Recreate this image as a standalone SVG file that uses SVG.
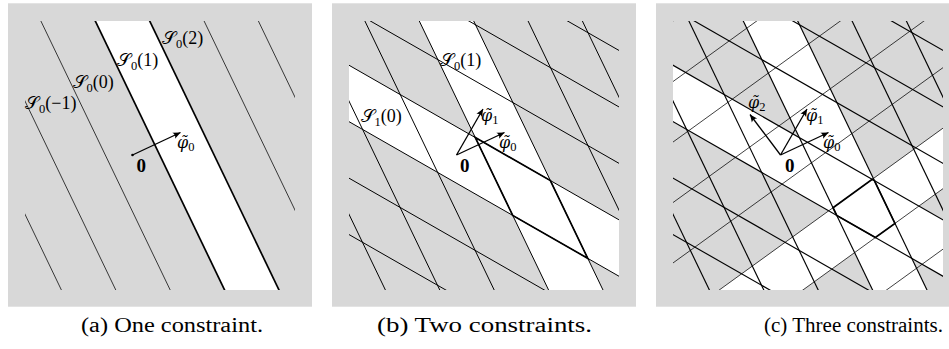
<svg xmlns="http://www.w3.org/2000/svg" xmlns:xlink="http://www.w3.org/1999/xlink" width="949" height="349" viewBox="0 0 949 349">
<style>
.bg{fill:#d8d8d8}
.white{fill:#ffffff}
.ln line{stroke:#000;fill:none}
.thick{stroke:#000;stroke-width:1.7;fill:none;stroke-linejoin:miter}
.arr{stroke:#000;stroke-width:1.3;fill:none;marker-end:url(#ah)}
.lab{font-family:"Liberation Serif","DejaVu Serif",serif;font-size:18px;fill:#000}
.sub{font-size:12.5px;font-style:normal;font-family:"Liberation Serif","DejaVu Serif",serif}
.phi{font-family:"DejaVu Serif","Liberation Serif",serif;font-style:italic;font-size:16px;fill:#000}
.zero{font-family:"Liberation Serif","DejaVu Serif",serif;font-weight:bold;font-size:19px;fill:#000}
.cap{font-family:"Liberation Serif","DejaVu Serif",serif;font-size:20px;fill:#000}
</style>
<defs>
<clipPath id="clip" clipPathUnits="userSpaceOnUse"><rect x="-107.5" y="-134" width="270" height="269"/></clipPath>
<marker id="ah" viewBox="-8 -4 9 8" refX="0" refY="0" markerWidth="9" markerHeight="8" markerUnits="userSpaceOnUse" orient="auto"><path d="M0,0 L-7.5,-3.3 Q-5,0 -7.5,3.3 Z" fill="#000"/></marker>
<g id="f0" class="ln">
<line x1="-203.3" y1="-140" x2="-68.7" y2="140"/>
<line x1="-148.9" y1="-140" x2="-14.3" y2="140"/>
<line x1="-94.5" y1="-140" x2="40.1" y2="140"/>
<line x1="-40.1" y1="-140" x2="94.5" y2="140"/>
<line x1="14.3" y1="-140" x2="148.9" y2="140"/>
<line x1="68.7" y1="-140" x2="203.3" y2="140"/>
<line x1="123.0" y1="-140" x2="257.6" y2="140"/>
</g>
<g id="f0thin" class="ln">
<line x1="-203.3" y1="-140" x2="-68.7" y2="140"/>
<line x1="-148.9" y1="-140" x2="-14.3" y2="140"/>
<line x1="-94.5" y1="-140" x2="40.1" y2="140"/>
<line x1="68.7" y1="-140" x2="203.3" y2="140"/>
<line x1="123.0" y1="-140" x2="257.6" y2="140"/>
</g>
<g id="f1" class="ln">
<line x1="-120" y1="72.4" x2="175" y2="241.3"/>
<line x1="-120" y1="16.0" x2="175" y2="184.9"/>
<line x1="-120" y1="-40.5" x2="175" y2="128.4"/>
<line x1="-120" y1="-96.9" x2="175" y2="72.0"/>
<line x1="-120" y1="-153.4" x2="175" y2="15.5"/>
<line x1="-120" y1="-209.8" x2="175" y2="-40.9"/>
<line x1="-120" y1="-266.3" x2="175" y2="-97.4"/>
</g>
<g id="f2" class="ln">
<line x1="-120" y1="298.5" x2="175" y2="85.1"/>
<line x1="-120" y1="238" x2="175" y2="24.6"/>
<line x1="-120" y1="177.5" x2="175" y2="-35.9"/>
<line x1="-120" y1="117" x2="175" y2="-96.4"/>
<line x1="-120" y1="56.6" x2="175" y2="-156.8"/>
<line x1="-120" y1="-3.9" x2="175" y2="-217.3"/>
<line x1="-120" y1="-64.4" x2="175" y2="-277.8"/>
<line x1="-120" y1="-124.9" x2="175" y2="-338.3"/>
</g>
<polygon id="s0" points="-40.1,-140 14.3,-140 148.9,140 94.5,140"/>
<polygon id="s1" points="-120,-96.9 175,72.0 175,128.4 -120,-40.5"/>
<polygon id="s2" points="-120,177.5 175,-35.9 175,24.6 -120,238"/>
</defs>

<g id="panel-a">
<rect class="bg" x="8" y="3.3" width="304" height="303.4"/>
<g transform="translate(132.5,155)">
<g clip-path="url(#clip)">
<use xlink:href="#s0" class="white"/>
<use xlink:href="#f0thin" stroke-width="0.75"/>
<line x1="-40.1" y1="-140" x2="94.5" y2="140" class="thick"/>
<line x1="14.3" y1="-140" x2="148.9" y2="140" class="thick"/>
</g>
<g id="arrows-a">
<circle cx="0" cy="0" r="1.3" fill="#000"/>
<line class="arr" x1="0" y1="0" x2="48" y2="-22.5"/>
</g>
</g>
<g id="labels-a">
<text class="lab" x="162" y="44">𝒮<tspan class="sub" dy="4">0</tspan><tspan dy="-4">(2)</tspan></text>
<text class="lab" x="117" y="66">𝒮<tspan class="sub" dy="4">0</tspan><tspan dy="-4">(1)</tspan></text>
<text class="lab" x="72.5" y="88">𝒮<tspan class="sub" dy="4">0</tspan><tspan dy="-4">(0)</tspan></text>
<text class="lab" x="25" y="109">𝒮<tspan class="sub" dy="4">0</tspan><tspan dy="-4">(−1)</tspan></text>
<text class="zero" x="136.5" y="172">0</text>
<text class="phi" x="177" y="148">φ̃<tspan class="sub" dy="3">0</tspan></text>
</g>
</g>

<g id="panel-b">
<rect class="bg" x="332" y="3.3" width="304" height="303.4"/>
<g transform="translate(456.5,155)">
<g clip-path="url(#clip)">
<use xlink:href="#s0" class="white"/>
<use xlink:href="#s1" class="white"/>
<use xlink:href="#f0" stroke-width="1.0"/>
<use xlink:href="#f1" stroke-width="1.0"/>
<polygon class="thick" points="18.82,-17.42 93.86,25.54 131.25,103.35 56.21,60.39"/>
</g>
<g id="arrows-b">
<line class="arr" x1="0" y1="0" x2="48" y2="-22.5"/>
<line class="arr" x1="0" y1="0" x2="26.5" y2="-46"/>
</g>
</g>
<g id="labels-b">
<text class="lab" x="440" y="66">𝒮<tspan class="sub" dy="4">0</tspan><tspan dy="-4">(1)</tspan></text>
<text class="lab" x="360.5" y="122">𝒮<tspan class="sub" dy="4">1</tspan><tspan dy="-4">(0)</tspan></text>
<text class="zero" x="460" y="172">0</text>
<text class="phi" x="481" y="121">φ̃<tspan class="sub" dy="3">1</tspan></text>
<text class="phi" x="499" y="148">φ̃<tspan class="sub" dy="3">0</tspan></text>
</g>
</g>

<g id="panel-c">
<rect class="bg" x="656" y="3.3" width="304" height="303.4"/>
<g transform="translate(780.5,155)">
<g clip-path="url(#clip)">
<use xlink:href="#s0" class="white"/>
<use xlink:href="#s1" class="white"/>
<use xlink:href="#s2" class="white"/>
<use xlink:href="#f2" stroke-width="0.75"/>
<use xlink:href="#f0" stroke-width="1.15"/>
<use xlink:href="#f1" stroke-width="1.15"/>
<polygon class="thick" points="52.52,52.70 91.74,24.33 93.86,25.54 114.45,68.39 94.9,82.54 56.21,60.39"/>
</g>
<g id="arrows-c">
<line class="arr" x1="0" y1="0" x2="48" y2="-22.5"/>
<line class="arr" x1="0" y1="0" x2="26.5" y2="-46"/>
<line class="arr" x1="0" y1="0" x2="-30.5" y2="-40.5"/>
</g>
</g>
<g id="labels-c">
<text class="zero" x="785" y="172">0</text>
<text class="phi" x="748" y="108">φ̃<tspan class="sub" dy="3">2</tspan></text>
<text class="phi" x="806" y="121">φ̃<tspan class="sub" dy="3">1</tspan></text>
<text class="phi" x="823" y="148">φ̃<tspan class="sub" dy="3">0</tspan></text>
</g>
</g>

<g id="captions">
<text class="cap" x="81" y="332" textLength="182" lengthAdjust="spacingAndGlyphs">(a) One constraint.</text>
<text class="cap" x="377" y="332" textLength="215" lengthAdjust="spacingAndGlyphs">(b) Two constraints.</text>
<text class="cap" x="764" y="332" textLength="179" lengthAdjust="spacingAndGlyphs">(c) Three constraints.</text>
</g>
</svg>
